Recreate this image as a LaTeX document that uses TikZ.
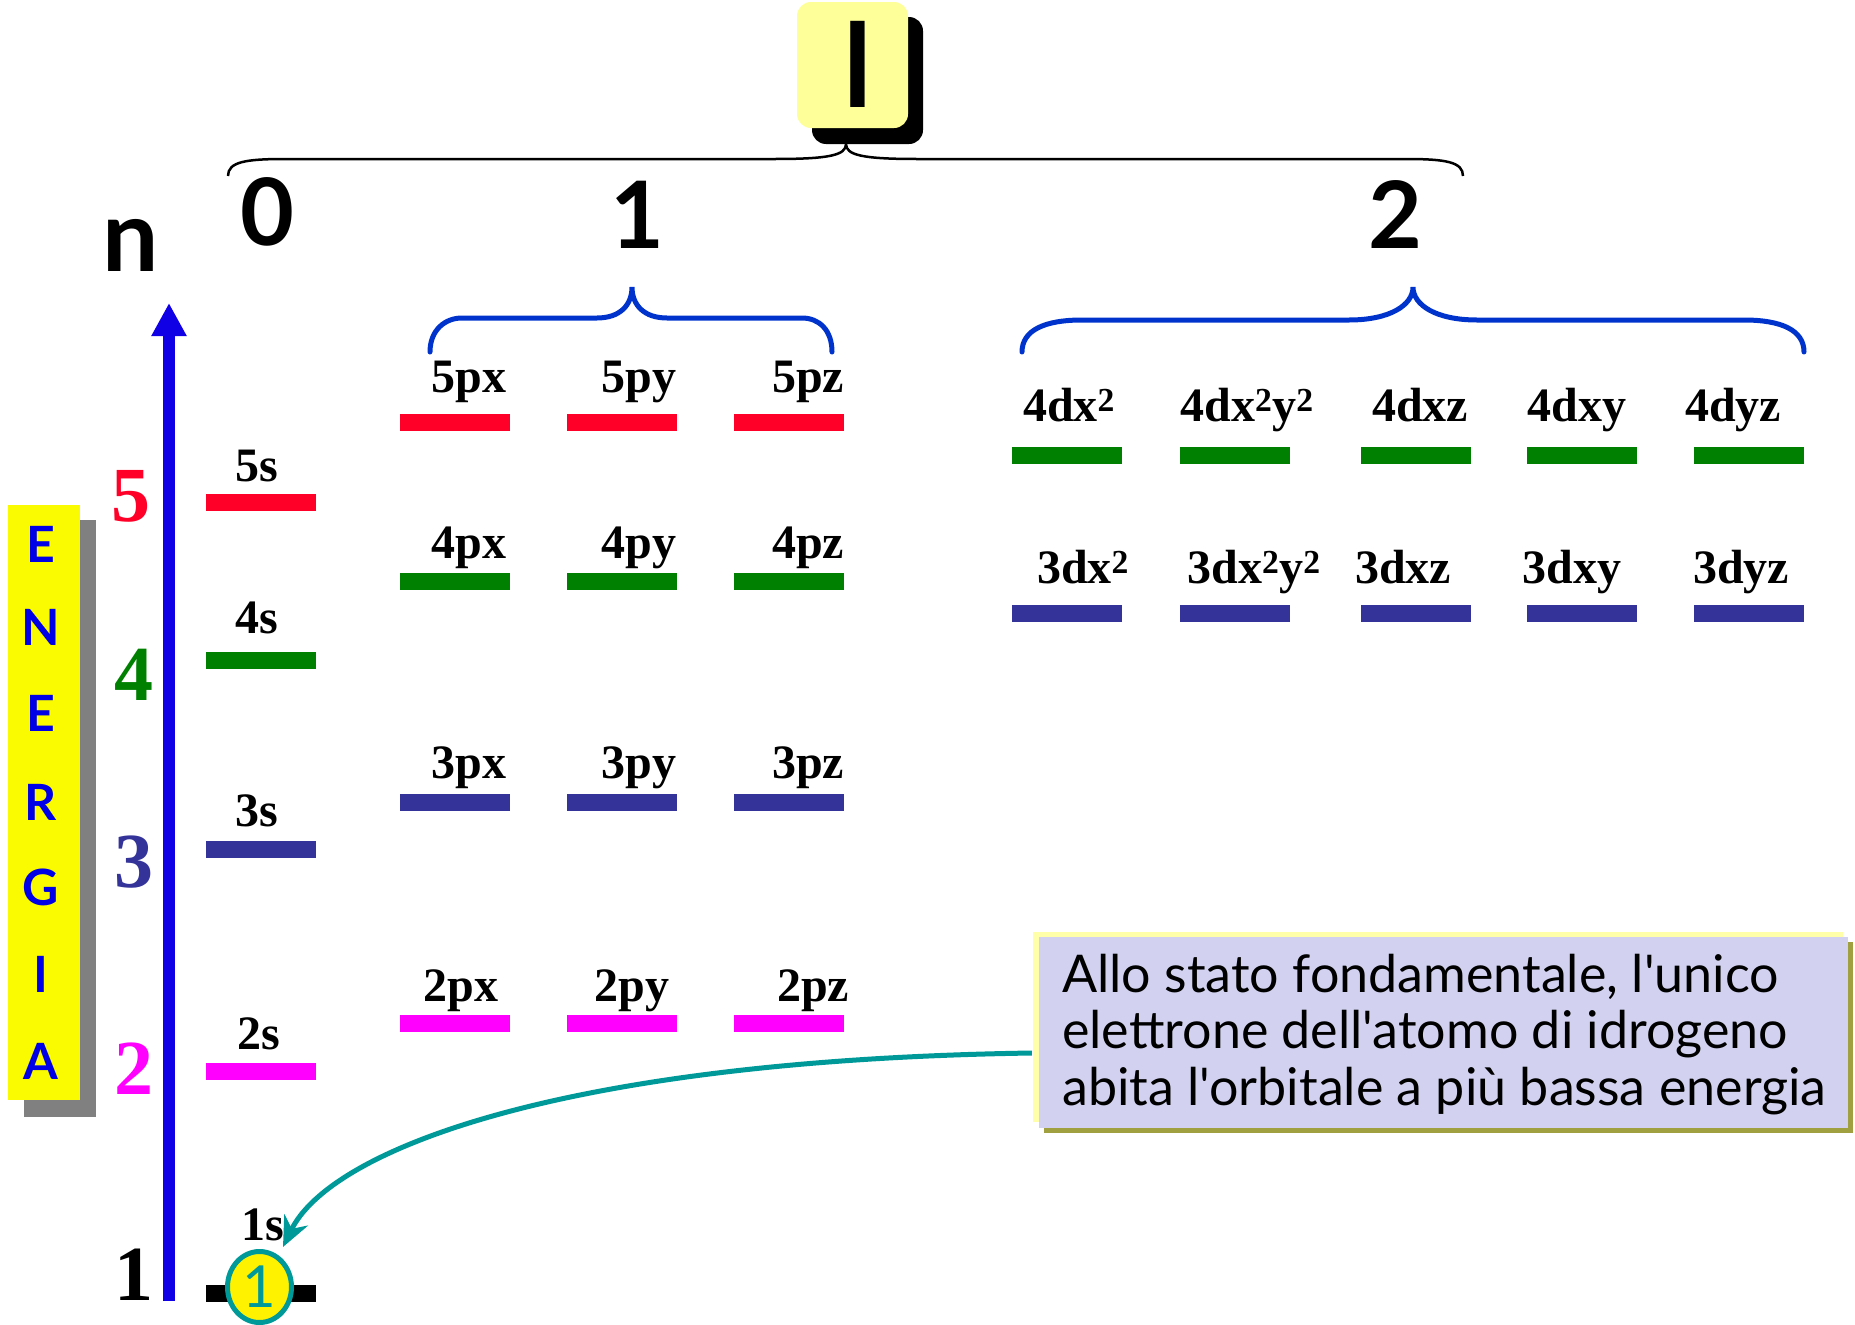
\documentclass[tikz,border=0pt]{standalone}
\usepackage{fontspec}
\setmainfont{Liberation Serif}
\newfontfamily\comic{Lato}[Ligatures=TeXOff]
\usetikzlibrary{arrows.meta,shapes.geometric}
\definecolor{redbar}{RGB}{255,0,40}
\definecolor{greenbar}{RGB}{0,128,0}
\definecolor{navybar}{RGB}{51,51,153}
\definecolor{magbar}{RGB}{255,0,255}
\definecolor{axisblue}{RGB}{16,0,230}
\definecolor{braceblue}{RGB}{0,51,204}
\definecolor{tealc}{RGB}{0,153,153}
\definecolor{lyel}{RGB}{255,255,153}
\definecolor{lav}{RGB}{210,210,240}
\definecolor{cyel}{RGB}{255,255,170}
\definecolor{olivec}{RGB}{160,160,64}
\definecolor{eyel}{RGB}{250,250,0}
\definecolor{eblue}{RGB}{0,0,230}
\begin{document}
\begin{tikzpicture}[x=1pt,y=-1pt,
  bar/.style={minimum width=110pt,minimum height=17pt,inner sep=0pt,outer sep=0pt,draw=none},
  olab/.style={anchor=base,inner sep=0pt,font=\fontsize{48}{50}\selectfont\bfseries},
  nlab/.style={anchor=base,inner sep=0pt,font=\fontsize{78}{80}\selectfont\bfseries},
  head/.style={inner sep=0pt,font=\comic\fontsize{93}{95}\selectfont\bfseries},
  eletter/.style={inner sep=0pt,text=eblue,font=\comic\fontsize{50}{52}\selectfont\bfseries},
  ctext/.style={anchor=base west,inner sep=0pt,font=\comic\fontsize{52}{56}\selectfont},
  bluebrace/.style={draw=braceblue,line width=5pt,line cap=round}
]
\useasboundingbox (0,0) rectangle (1855,1325);

% ---- top "l" box and brace
\fill[black,rounded corners=14pt] (812,17) rectangle (923,144);
\node[fill=lyel,rounded corners=14pt,minimum width=111pt,minimum height=126pt,inner sep=0pt] (lbox) at (852.5,65) {};
\node[inner sep=0pt,font=\comic\fontsize{116}{118}\selectfont\bfseries] (lt) at (857.5,64) {l};
\draw[line width=2.5pt] (228,176) .. controls (228,162) and (245,159) .. (285,159) -- (775,159)
  .. controls (830,159) and (846,155) .. (846,144)
  .. controls (846,155) and (862,159) .. (917,159) -- (1406,159)
  .. controls (1446,159) and (1463,162) .. (1463,176);

\node[head] (h0) at (267,212) {0};
\node[head] (h1) at (637,215) {1};
\node[head] (h2) at (1395,215) {2};
\node[inner sep=0pt,font=\comic\fontsize{100}{102}\selectfont\bfseries] (nn) at (131,245) {n};

% ---- blue braces
\draw[bluebrace] (430,352) .. controls (430,330) and (445,318) .. (462,318) -- (597,318)
  .. controls (620,318) and (632,305) .. (632,287)
  .. controls (632,305) and (644,318) .. (667,318) -- (802,318)
  .. controls (819,318) and (832,330) .. (832,352);
\draw[bluebrace] (1022,352) .. controls (1022,330) and (1045,320) .. (1082,320) -- (1349,320)
  .. controls (1390,320) and (1413,305) .. (1413,287)
  .. controls (1413,305) and (1436,320) .. (1477,320) -- (1744,320)
  .. controls (1781,320) and (1804,330) .. (1804,352);

% ---- ENERGIA box
\fill[gray] (24,520) rectangle (96,1117);
\node[fill=eyel,minimum width=72pt,minimum height=595pt,inner sep=0pt] (ebox) at (44,802.5) {};
\node[eletter] (e1) at (41,544) {E};
\node[eletter] (e2) at (41,627) {N};
\node[eletter] (e3) at (41,713) {E};
\node[eletter] (e4) at (41,802) {R};
\node[eletter] (e5) at (41,887) {G};
\node[eletter] (e6) at (41,974) {I};
\node[eletter] (e7) at (41,1061) {A};

% ---- n numbers
\node[nlab,text=redbar] (n5) at (131,521) {5};
\node[nlab,text=greenbar] (n4) at (134,700) {4};
\node[nlab,text=navybar] (n3) at (134,887) {3};
\node[nlab,text=magbar] (n2) at (134,1094) {2};
\node[nlab,text=black] (n1) at (134,1300) {1};

% ---- energy axis
\coordinate (axb) at (169,1301);
\coordinate (axt) at (169,303);
\draw[axisblue,line width=12pt,-{Triangle[length=33pt,width=33pt]}] (axb) -- (axt);

% ---- s levels
\node[bar,fill=redbar] (b5s) at (261,502.5) {};
\node[bar,fill=greenbar] (b4s) at (261,660) {};
\node[bar,fill=navybar] (b3s) at (261,849) {};
\node[bar,fill=magbar] (b2s) at (261,1071) {};
\node[bar,fill=black] (b1s) at (261,1293) {};
\node[olab] (l5s) at (257,481) {5s};
\node[olab] (l4s) at (257,633) {4s};
\node[olab] (l3s) at (257,826) {3s};
\node[olab] (l2s) at (259,1049) {2s};
\node[olab] (l1s) at (263,1240) {1s};

% ---- p levels
\node[bar,fill=redbar] (b5px) at (455,422) {};
\node[bar,fill=redbar] (b5py) at (622,422) {};
\node[bar,fill=redbar] (b5pz) at (789,422) {};
\node[bar,fill=greenbar] (b4px) at (455,581) {};
\node[bar,fill=greenbar] (b4py) at (622,581) {};
\node[bar,fill=greenbar] (b4pz) at (789,581) {};
\node[bar,fill=navybar] (b3px) at (455,802) {};
\node[bar,fill=navybar] (b3py) at (622,802) {};
\node[bar,fill=navybar] (b3pz) at (789,802) {};
\node[bar,fill=magbar] (b2px) at (455,1023) {};
\node[bar,fill=magbar] (b2py) at (622,1023) {};
\node[bar,fill=magbar] (b2pz) at (789,1023) {};
\node[olab] (l5px) at (469,392) {5px};
\node[olab] (l5py) at (639,392) {5py};
\node[olab] (l5pz) at (808,392) {5pz};
\node[olab] (l4px) at (469,558) {4px};
\node[olab] (l4py) at (639,558) {4py};
\node[olab] (l4pz) at (808,558) {4pz};
\node[olab] (l3px) at (469,778) {3px};
\node[olab] (l3py) at (639,778) {3py};
\node[olab] (l3pz) at (808,778) {3pz};
\node[olab] (l2px) at (461,1001) {2px};
\node[olab] (l2py) at (632,1001) {2py};
\node[olab] (l2pz) at (813,1001) {2pz};

% ---- d levels
\node[bar,fill=greenbar] (b4d1) at (1067,455) {};
\node[bar,fill=greenbar] (b4d2) at (1235,455) {};
\node[bar,fill=greenbar] (b4d3) at (1416,455) {};
\node[bar,fill=greenbar] (b4d4) at (1582,455) {};
\node[bar,fill=greenbar] (b4d5) at (1749,455) {};
\node[bar,fill=navybar] (b3d1) at (1067,613) {};
\node[bar,fill=navybar] (b3d2) at (1235,613) {};
\node[bar,fill=navybar] (b3d3) at (1416,613) {};
\node[bar,fill=navybar] (b3d4) at (1582,613) {};
\node[bar,fill=navybar] (b3d5) at (1749,613) {};
\node[olab] (l4d1) at (1069,421) {4dx\textsuperscript{2}};
\node[olab] (l4d2) at (1247,421) {4dx\textsuperscript{2}y\textsuperscript{2}};
\node[olab] (l4d3) at (1420,421) {4dxz};
\node[olab] (l4d4) at (1577,421) {4dxy};
\node[olab] (l4d5) at (1733,421) {4dyz};
\node[olab] (l3d1) at (1083,583) {3dx\textsuperscript{2}};
\node[olab] (l3d2) at (1254,583) {3dx\textsuperscript{2}y\textsuperscript{2}};
\node[olab] (l3d3) at (1403,583) {3dxz};
\node[olab] (l3d4) at (1572,583) {3dxy};
\node[olab] (l3d5) at (1741,583) {3dyz};

% ---- electron
\node[ellipse,draw=tealc,line width=5pt,fill=yellow,minimum width=64pt,minimum height=71pt,inner sep=0pt,
  text=tealc,font=\comic\fontsize{58}{60}\selectfont] (el) at (259.5,1287) {1};

% ---- callout
\fill[olivec] (1044,942) rectangle (1853,1133);
\fill[cyel] (1033,932) rectangle (1843,1122);
\node[fill=lav,minimum width=809pt,minimum height=191pt,inner sep=0pt] (callout) at (1443.5,1032.5) {};
\node[ctext] (ct1) at (1062,992) {Allo stato fondamentale, l'unico};
\node[ctext] (ct2) at (1062,1048) {elettrone dell'atomo di idrogeno};
\node[ctext] (ct3) at (1062,1105) {abita l'orbitale a più bassa energia};

\coordinate (atip) at (283,1247);
\draw[tealc,line width=5pt,-{Stealth[length=30pt,width=26pt]}]
  ([xshift=-7pt,yshift=-20.5pt]callout.west) .. controls (560,1060) and (330,1150) .. (atip);
\end{tikzpicture}
\end{document}
